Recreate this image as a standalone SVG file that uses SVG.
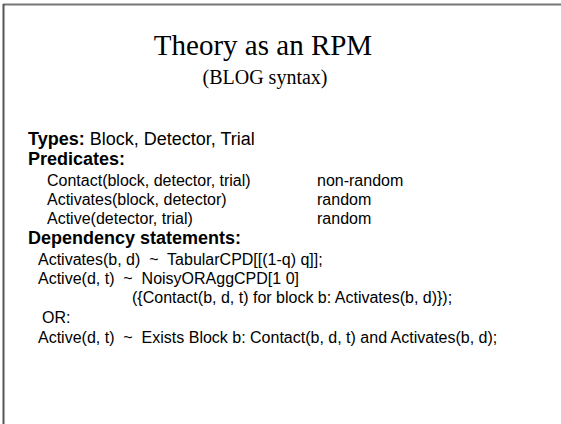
<svg xmlns="http://www.w3.org/2000/svg" width="561" height="424" viewBox="0 0 561 424">
  <style>
    .title { font-family: "Liberation Serif", "Times New Roman", serif; fill: #000; text-anchor: middle; }
    .head { font-family: "Liberation Sans", Arial, sans-serif; font-weight: bold; font-size: 18px; fill: #000; }
    .body { font-family: "Liberation Sans", Arial, sans-serif; font-size: 16px; fill: #000; }
    .reg { font-weight: normal; }
  </style>
  <rect x="0" y="0" width="561" height="424" fill="#fff"/>
  <!-- slide frame: top and left edges -->
  <line x1="3" y1="4.5" x2="561" y2="4.5" stroke="#777" stroke-width="2"/>
  <line x1="3.5" y1="4" x2="3.5" y2="424" stroke="#555" stroke-width="2"/>

  <text class="title" x="263" y="55" font-size="29">Theory as an RPM</text>
  <text class="title" x="265" y="84" font-size="20">(BLOG syntax)</text>

  <text class="head" x="28" y="145">Types:<tspan class="reg"> Block, Detector, Trial</tspan></text>
  <text class="head" x="28" y="165">Predicates:</text>

  <text class="body" x="47" y="186">Contact(block, detector, trial)</text>
  <text class="body" x="317" y="186">non-random</text>
  <text class="body" x="47" y="205">Activates(block, detector)</text>
  <text class="body" x="317" y="205">random</text>
  <text class="body" x="47" y="224">Active(detector, trial)</text>
  <text class="body" x="317" y="224">random</text>

  <text class="head" x="28" y="244">Dependency statements:</text>

  <text class="body" x="38" y="265" xml:space="preserve">Activates(b, d)  ~  TabularCPD[[(1-q) q]];</text>
  <text class="body" x="38" y="284" xml:space="preserve">Active(d, t)  ~  NoisyORAggCPD[1 0]</text>
  <text class="body" x="132" y="303">({Contact(b, d, t) for block b: Activates(b, d)});</text>
  <text class="body" x="42" y="323">OR:</text>
  <text class="body" x="38" y="343" xml:space="preserve">Active(d, t)  ~  Exists Block b: Contact(b, d, t) and Activates(b, d);</text>
</svg>
